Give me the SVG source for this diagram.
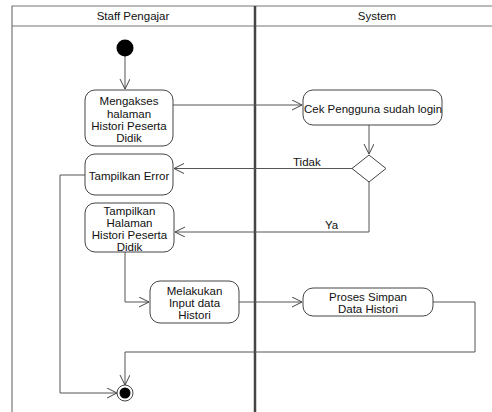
<svg xmlns="http://www.w3.org/2000/svg" width="492" height="412" viewBox="0 0 492 412">
<style>
.frame{fill:none;stroke:#777;stroke-width:1.2}
.div{fill:none;stroke:#444;stroke-width:2.5}
.node{fill:#fff;stroke:#444;stroke-width:1}
.edge{fill:none;stroke:#555;stroke-width:1}
text{font-family:"Liberation Sans",Arial,sans-serif;font-size:11.5px;fill:#111;text-anchor:middle}
.lbl{text-anchor:start}
</style>
<defs>
<marker id="arr" markerWidth="12" markerHeight="12" refX="10" refY="5" orient="auto" markerUnits="userSpaceOnUse" viewBox="0 0 12 12">
<path d="M0,0 L10,5 L0,10" fill="none" stroke="#444" stroke-width="1"/>
</marker>
</defs>
<g id="swimlanes">
<rect x="0" y="0" width="492" height="412" fill="#fff"/>
<path class="frame" d="M492,6 H12 V412"/>
<path class="frame" d="M12,26 H492"/>
<path class="div" d="M255,6 V412"/>
<text x="133" y="20">Staff Pengajar</text>
<text x="377" y="20">System</text>
</g>
<g id="connectors">
<path class="edge" d="M125,56 V89" marker-end="url(#arr)"/>
<path class="edge" d="M173,105 H302" marker-end="url(#arr)"/>
<path class="edge" d="M369,125 V154" marker-end="url(#arr)"/>
<path class="edge" d="M353,168.5 H174" marker-end="url(#arr)"/>
<text class="lbl" x="293" y="166">Tidak</text>
<path class="edge" d="M369,182 V232 H175" marker-end="url(#arr)"/>
<text class="lbl" x="325" y="229">Ya</text>
<path class="edge" d="M125,252 V302 H149" marker-end="url(#arr)"/>
<path class="edge" d="M239,302 H302" marker-end="url(#arr)"/>
<path class="edge" d="M433,302 H475 V352 H125 V385" marker-end="url(#arr)"/>
<path class="edge" d="M85,175 H60 V393 H117" marker-end="url(#arr)"/>
</g>
<g id="start">
<circle cx="125" cy="48" r="8.5" fill="#000"/>
</g>
<g id="mengakses">
<rect class="node" x="85" y="90" width="88" height="56" rx="10"/>
<text x="129" y="105">Mengakses</text>
<text x="129" y="117.5">halaman</text>
<text x="129" y="130">Histori Peserta</text>
<text x="129" y="142">Didik</text>
</g>
<g id="tampilkan-error">
<rect class="node" x="85" y="154" width="88" height="41" rx="10"/>
<text x="129" y="179.5">Tampilkan Error</text>
</g>
<g id="tampilkan-halaman">
<rect class="node" x="85" y="203" width="89" height="49" rx="10"/>
<text x="129.5" y="214.5">Tampilkan</text>
<text x="129.5" y="226.5">Halaman</text>
<text x="129.5" y="238.5">Histori Peserta</text>
<text x="129.5" y="250.5">Didik</text>
</g>
<g id="melakukan-input">
<rect class="node" x="150" y="281" width="89" height="42" rx="10"/>
<text x="194.5" y="294.5">Melakukan</text>
<text x="194.5" y="306.5">Input data</text>
<text x="194.5" y="319">Histori</text>
</g>
<g id="cek-login">
<rect class="node" x="303" y="90" width="139" height="35" rx="10"/>
<text x="373" y="113">Cek Pengguna sudah login</text>
</g>
<g id="decision">
<polygon class="node" points="369,155 386,168.5 369,182 352,168.5"/>
</g>
<g id="proses-simpan">
<rect class="node" x="303" y="288" width="130" height="28" rx="10"/>
<text x="368" y="300.5">Proses Simpan</text>
<text x="368" y="312.5">Data Histori</text>
</g>
<g id="end">
<circle cx="125" cy="393" r="8" fill="#fff" stroke="#444" stroke-width="1"/>
<circle cx="125" cy="393" r="5.5" fill="#000"/>
</g>
</svg>
